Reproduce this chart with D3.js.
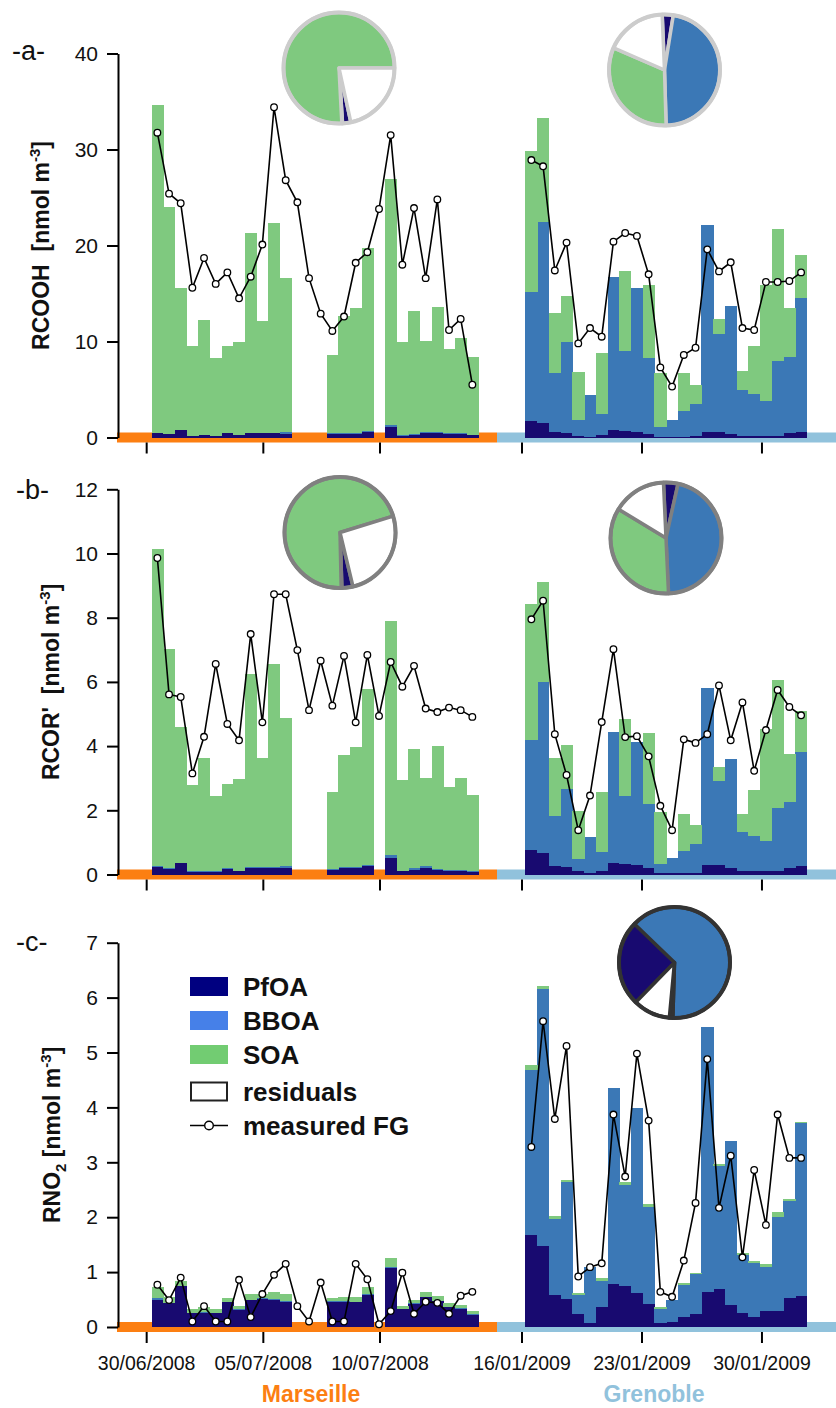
<!DOCTYPE html>
<html><head><meta charset="utf-8">
<script src="https://cdn.jsdelivr.net/npm/d3@7"></script>
<style>body{margin:0;background:#fff}svg{display:block}text{font-family:"Liberation Sans",Arial,sans-serif}</style>
</head><body>
<svg id="chart" width="836" height="1408"></svg>
<script>
// ---------------- DATA ----------------
const components = ["PfOA","BBOA","SOA"];
// Marseille: 28 sampling slots of 12 h (null = no PMF data)
const marPfOA_a = [0.43,0.33,0.78,0.16,0.23,0.12,0.43,0.23,0.43,0.43,0.43,0.33,null,null,null,0.38,0.38,0.38,0.6,null,1.06,0.19,0.3,0.43,0.43,0.33,0.33,0.23];
const marBBOA_a = [0.05,0.03,0.05,0.03,0.03,0.03,0.05,0.03,0.05,0.05,0.08,0.2,null,null,null,0.05,0.05,0.05,0.12,null,0.25,0.05,0.05,0.12,0.1,0.1,0.1,0.08];
const marSOA_a  = [34.2,23.6,14.7,9.3,12.0,8.15,9.1,9.7,20.8,11.7,21.8,16.1,null,null,null,8.2,12.2,13.1,19.0,null,25.6,9.7,12.85,9.5,13.1,8.8,9.9,8.1];
const marFG_a   = [31.75,25.4,24.4,15.6,18.7,16.0,17.2,14.5,16.75,20.1,34.4,26.8,24.5,16.6,12.9,11.1,12.6,18.2,19.3,23.8,31.5,18.0,23.9,16.6,24.8,11.2,12.35,5.5];

const marPfOA_b = [0.24,0.17,0.35,0.08,0.08,0.08,0.17,0.1,0.2,0.2,0.2,0.2,null,null,null,0.15,0.2,0.2,0.27,null,0.52,0.1,0.15,0.2,0.15,0.1,0.1,0.08];
const marBBOA_b = [0.02,0.02,0.02,0.02,0.02,0.02,0.02,0.02,0.03,0.03,0.03,0.05,null,null,null,0.02,0.03,0.03,0.03,null,0.08,0.02,0.05,0.06,0.03,0.04,0.03,0.03];
const marSOA_b  = [9.88,6.83,4.23,2.7,3.54,2.35,2.64,2.85,6.03,3.41,6.34,4.64,null,null,null,2.41,3.49,3.75,5.48,null,7.3,2.82,3.71,2.74,3.82,2.59,2.87,2.37];
const marFG_b   = [9.86,5.61,5.53,3.15,4.29,6.56,4.69,4.18,7.49,4.74,8.73,8.73,6.99,5.12,6.66,5.26,6.81,4.74,6.84,4.94,6.62,5.85,6.5,5.17,5.06,5.2,5.12,4.91];

const marPfOA_c = [0.5,0.43,0.74,0.25,0.26,0.25,0.45,0.31,0.49,0.51,0.49,0.46,null,null,null,0.46,0.46,0.45,0.59,null,1.07,0.32,0.42,0.54,0.47,0.36,0.33,0.21];
const marBBOA_c = [0.02,0.01,0.01,0.01,0.01,0.01,0.01,0.01,0.01,0.01,0.02,0.02,null,null,null,0.01,0.01,0.01,0.02,null,0.02,0.01,0.01,0.01,0.01,0.01,0.01,0.02];
const marSOA_c  = [0.21,0.11,0.09,0.07,0.1,0.07,0.07,0.07,0.11,0.09,0.13,0.12,null,null,null,0.06,0.08,0.09,0.12,null,0.17,0.05,0.07,0.09,0.08,0.07,0.06,0.06];
const marFG_c   = [0.77,0.49,0.9,0.1,0.38,0.1,0.1,0.86,0.18,0.6,0.95,1.15,0.38,0.1,0.81,0.1,0.1,1.15,0.87,0.05,0.29,0.99,0.24,0.46,0.44,0.24,0.57,0.64];

// Grenoble: 24 sampling slots
const grePfOA_a = [1.7,1.5,0.57,0.47,0.15,0.05,0.26,0.78,0.68,0.57,0.36,0.05,0.1,0.1,0.2,0.57,0.57,0.36,0.15,0.15,0.15,0.15,0.47,0.57];
const greBBOA_a = [13.5,20.9,6.13,9.43,1.65,4.35,2.19,15.92,8.32,15.03,7.94,1.05,1.7,2.65,3.3,21.53,10.23,13.34,4.8,4.35,3.65,7.85,7.93,13.93];
const greSOA_a  = [14.6,10.9,6.3,4.8,5.0,0,6.35,0,8.3,0,7.6,5.6,0,3.95,2.0,0,1.5,0,1.95,5.0,12.1,13.7,5.1,4.5];
const greFG_a   = [28.9,28.25,17.4,20.3,9.8,11.4,10.5,20.4,21.3,21.0,17.0,7.3,5.3,8.6,9.35,19.6,17.3,18.25,11.4,11.2,16.2,16.2,16.3,17.2];

const grePfOA_b = [0.76,0.67,0.26,0.23,0.1,0.05,0.1,0.36,0.33,0.3,0.2,0.05,0.05,0.05,0.05,0.3,0.3,0.2,0.1,0.1,0.1,0.1,0.2,0.25];
const greBBOA_b = [3.43,5.33,1.56,2.43,0.38,1.12,0.6,4.08,2.12,3.83,2.0,0.28,0.47,0.68,0.9,5.51,2.61,3.4,1.22,1.1,0.94,1.97,2.06,3.57];
const greSOA_b  = [4.24,3.11,1.81,1.37,1.5,0,1.87,0,2.39,0,2.21,1.62,0,1.15,0.59,0,0.44,0,0.56,1.43,3.5,3.99,1.49,1.27];
const greFG_b   = [7.95,8.53,4.37,3.1,1.38,2.46,4.75,7.02,4.28,4.31,3.68,2.14,1.38,4.21,4.1,4.37,5.89,4.18,5.36,3.23,4.5,5.75,5.22,4.96];

const grePfOA_c = [1.68,1.48,0.58,0.51,0.24,0.07,0.36,0.78,0.75,0.62,0.42,0.07,0.09,0.19,0.24,0.64,0.7,0.4,0.25,0.18,0.29,0.29,0.53,0.56];
const greBBOA_c = [3.01,4.68,1.39,2.13,0.34,1.03,0.48,3.57,1.84,3.37,1.77,0.25,0.41,0.58,0.72,4.82,2.24,2.99,1.07,0.99,0.8,1.72,1.76,3.15];
const greSOA_c  = [0.08,0.06,0.05,0.04,0.04,0,0.06,0,0.06,0,0.05,0.04,0,0.03,0.03,0,0.03,0,0.03,0.03,0.06,0.08,0.04,0.03];
const greFG_c   = [3.28,5.57,3.79,5.12,0.92,1.09,1.16,3.87,2.74,4.98,3.76,0.64,0.55,1.21,2.26,4.88,2.17,3.12,1.27,2.86,1.86,3.87,3.08,3.08];

// Pie fractions (%) in order PfOA, BBOA, SOA, residuals ; start angle (deg)
const pieSlices = ["PfOA","BBOA","SOA","residuals"];
const pieA_mar = [2.4,0.2,75.8,21.6];  const pieA_mar_start = 167.7;
const pieA_gre = [3.2,47.0,32.0,17.8]; const pieA_gre_start = -2.4;
const pieB_mar = [3.2,0.2,70.6,26.0];  const pieB_mar_start = 166.5;
const pieB_gre = [4.2,45.8,34.4,15.6]; const pieB_gre_start = -2.6;
const pieC_gre = [24.9,63.3,1.0,10.8]; const pieC_gre_start = 224.2;

const marTicks = ["30/06/2008","05/07/2008","10/07/2008"];
const greTicks = ["16/01/2009","23/01/2009","30/01/2009"];
const yTicksA = [0,10,20,30,40];
const yTicksB = [0,2,4,6,8,10,12];
const yTicksC = [0,1,2,3,4,5,6,7];

// ---------------- SETUP ----------------
const svg = d3.select("#chart");
const H = 3600e3;
const parse = d3.timeParse("%d/%m/%Y");
const marStart = new Date(2008,5,30,5,0), marStep = 12*H;
const greStart = new Date(2009,0,16,4,54), greStep = 16.42*H;
const marTimes = d3.range(marFG_a.length).map(i => new Date(+marStart + i*marStep));
const greTimes = d3.range(greFG_a.length).map(i => new Date(+greStart + i*greStep));

const x = d3.scaleTime()
  .domain([new Date(2008,5,28,18,30), new Date(2008,6,15,0,22), new Date(2009,0,14,13,0), new Date(2009,1,3,7,40)])
  .range([118,497,497,836]);

const colors = {PfOA:"#180a70", BBOA:"#3b78b6", SOA:"#7fc97f", residuals:"#ffffff"};
const legendColors = {PfOA:"#000080", BBOA:"#4680e8", SOA:"#72cc72"};
const ORANGE = "#fc7f12", LBLUE = "#91c2dc";

const panels = [
  {label:"-a-", lx:12, ly:60, yMax:40, y0:437.5, y1:53.5, ticks:yTicksA, title:"RCOOH", titleX:41,
   mar:[marPfOA_a,marBBOA_a,marSOA_a,marFG_a], gre:[grePfOA_a,greBBOA_a,greSOA_a,greFG_a],
   pies:[{v:pieA_mar,s:pieA_mar_start,cx:339,cy:68},{v:pieA_gre,s:pieA_gre_start,cx:664.5,cy:70}], pieStroke:"#cccccc"},
  {label:"-b-", lx:16, ly:499, yMax:12, y0:874.5, y1:489.3, ticks:yTicksB, title:"RCOR'", titleX:51,
   mar:[marPfOA_b,marBBOA_b,marSOA_b,marFG_b], gre:[grePfOA_b,greBBOA_b,greSOA_b,greFG_b],
   pies:[{v:pieB_mar,s:pieB_mar_start,cx:340,cy:532.5},{v:pieB_gre,s:pieB_gre_start,cx:666,cy:538}], pieStroke:"#808080"},
  {label:"-c-", lx:16, ly:951, yMax:7, y0:1327, y1:942.7, ticks:yTicksC, title:"RNO2", titleX:52,
   mar:[marPfOA_c,marBBOA_c,marSOA_c,marFG_c], gre:[grePfOA_c,greBBOA_c,greSOA_c,greFG_c],
   pies:[{v:pieC_gre,s:pieC_gre_start,cx:674.5,cy:962.5}], pieStroke:"#333333"}
];

const stack = d3.stack().keys(components);

panels.forEach((p, pi) => {
  const g = svg.append("g");
  const y = d3.scaleLinear().domain([0,p.yMax]).range([p.y0,p.y1]);

  // bands
  g.append("rect").attr("x",117).attr("width",x(new Date(2008,6,15,0,22))-117).attr("y",p.y0-5).attr("height",10).attr("fill",ORANGE);
  g.append("rect").attr("x",497).attr("width",836-497).attr("y",p.y0-5).attr("height",10).attr("fill",LBLUE);

  // bars + lines for both segments
  [[p.mar, marTimes, marStep],[p.gre, greTimes, greStep]].forEach(([arr, times, step]) => {
    const rows = times.map((t,i) => ({t, t1:new Date(+t+step), PfOA:arr[0][i], BBOA:arr[1][i], SOA:arr[2][i], FG:arr[3][i]}));
    const valid = rows.filter(r => r.PfOA !== null);
    const series = stack(valid);
    series.forEach(s => {
      g.append("g").attr("fill", colors[s.key]).attr("shape-rendering","crispEdges")
        .selectAll("rect").data(s).join("rect")
        .attr("x", d => x(d.data.t))
        .attr("width", d => x(d.data.t1) - x(d.data.t) + 0.4)
        .attr("y", d => y(d[1]))
        .attr("height", d => Math.max(0, y(d[0]) - y(d[1])));
    });
    const cx = r => (x(r.t) + x(r.t1))/2;
    g.append("path").datum(rows)
      .attr("fill","none").attr("stroke","#000").attr("stroke-width",1.6)
      .attr("d", d3.line().x(cx).y(r => y(r.FG)));
    g.append("g").selectAll("circle").data(rows).join("circle")
      .attr("cx", cx).attr("cy", r => y(r.FG)).attr("r",3.3)
      .attr("fill","#fff").attr("stroke","#000").attr("stroke-width",1.3);
  });

  // y axis
  const ax = g.append("g").attr("transform","translate(118,0)")
    .call(d3.axisLeft(y).tickValues(p.ticks).tickFormat(d3.format("d")).tickSize(11).tickSizeOuter(0).tickPadding(9));
  ax.select(".domain").attr("stroke","#000").attr("stroke-width",2);
  ax.selectAll(".tick line").attr("stroke","#000").attr("stroke-width",2);
  ax.selectAll(".tick text").attr("font-size",21).attr("fill","#111").style("font-family","'Liberation Sans',Arial,sans-serif");

  // x ticks
  const tickDates = marTicks.concat(greTicks).map(parse);
  g.append("g").selectAll("line").data(tickDates).join("line")
    .attr("x1", d => x(d)).attr("x2", d => x(d))
    .attr("y1", p.y0+5).attr("y2", p.y0+16)
    .attr("stroke","#000").attr("stroke-width",2);
  if (pi === 2) {
    g.append("g").selectAll("text").data(marTicks.concat(greTicks)).join("text")
      .attr("x", d => x(parse(d))).attr("y", p.y0+43)
      .attr("text-anchor","middle").attr("font-size",19.5).attr("fill","#111").text(d => d);
  }

  // panel label
  g.append("text").attr("x",p.lx).attr("y",p.ly).attr("font-size",27).attr("fill","#111").text(p.label);

  // y title
  const yc = (p.y0 + p.y1)/2;
  const t = g.append("text").attr("transform",`translate(${p.titleX},${yc}) rotate(-90)`)
    .attr("text-anchor","middle").attr("font-size",23).attr("font-weight","bold").attr("fill","#111").attr("dy","0.35em");
  if (p.title === "RNO2") {
    t.append("tspan").text("RNO");
    t.append("tspan").attr("font-size",15).attr("dy",6).text("2");
    t.append("tspan").attr("dy",-6).text(" [nmol m");
  } else {
    t.append("tspan").text(p.title + "\u00a0 [nmol m");
  }
  t.append("tspan").attr("font-size",15).attr("dy",-9).text("-3");
  t.append("tspan").attr("dy",9).text("]");

  // pies
  p.pies.forEach(pie => {
    const a0 = pie.s*Math.PI/180;
    const arcs = d3.pie().sort(null).startAngle(a0).endAngle(a0+2*Math.PI)(pie.v);
    const arc = d3.arc().innerRadius(0).outerRadius(55.5);
    const pg = g.append("g").attr("transform",`translate(${pie.cx},${pie.cy})`);
    pg.selectAll("path").data(arcs).join("path")
      .attr("d", arc).attr("fill",(d,i) => colors[pieSlices[i]])
      .attr("stroke", p.pieStroke).attr("stroke-width",3.5).attr("stroke-linejoin","round");
    pg.append("circle").attr("r",55.5).attr("fill","none").attr("stroke",p.pieStroke).attr("stroke-width",4);
  });
});

// city labels
svg.append("text").attr("x",311).attr("y",1402).attr("text-anchor","middle").attr("font-size",23).attr("font-weight","bold").attr("fill",ORANGE).text("Marseille");
svg.append("text").attr("x",654).attr("y",1402).attr("text-anchor","middle").attr("font-size",23).attr("font-weight","bold").attr("fill",LBLUE).text("Grenoble");

// legend
const legend = svg.append("g");
const legendRows = [
  {name:"PfOA", y:986.5, type:"box"},
  {name:"BBOA", y:1020.5, type:"box"},
  {name:"SOA", y:1054.5, type:"box"},
  {name:"residuals", y:1091.5, type:"res"},
  {name:"measured FG", y:1125.5, type:"line"}
];
legendRows.forEach(r => {
  if (r.type === "box") {
    legend.append("rect").attr("x",190).attr("y",r.y-9.5).attr("width",38).attr("height",19).attr("fill",legendColors[r.name]);
  } else if (r.type === "res") {
    legend.append("rect").attr("x",191).attr("y",r.y-9).attr("width",36).attr("height",18).attr("fill","#fff").attr("stroke","#222").attr("stroke-width",2);
  } else {
    legend.append("line").attr("x1",190).attr("x2",228).attr("y1",r.y).attr("y2",r.y).attr("stroke","#000").attr("stroke-width",1.6);
    legend.append("circle").attr("cx",209).attr("cy",r.y).attr("r",4.3).attr("fill","#fff").attr("stroke","#000").attr("stroke-width",1.4);
  }
  legend.append("text").attr("x",243).attr("y",r.y).attr("dy","0.36em").attr("font-size",26).attr("font-weight","bold").attr("fill","#111").text(r.name);
});
</script>
</body></html>
